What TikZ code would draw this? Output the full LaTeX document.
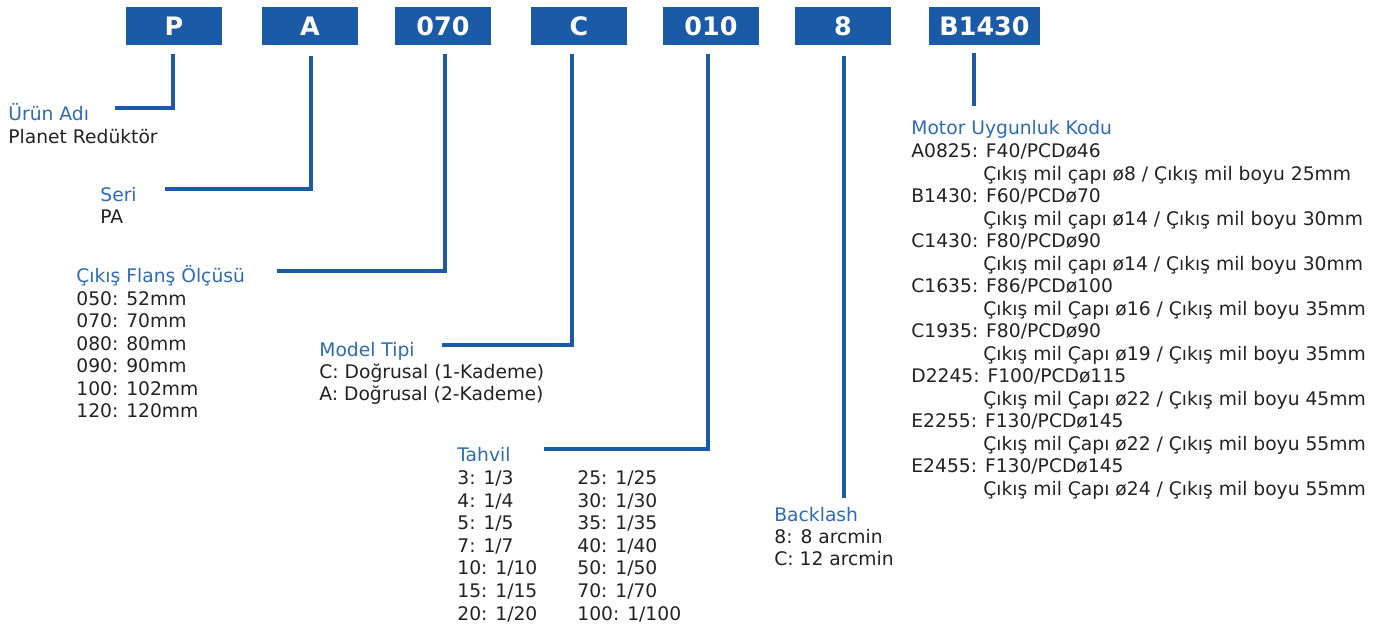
\documentclass[tikz,border=0pt]{standalone}
\usepackage{fontspec}
\setmainfont{DejaVu Sans}
\usetikzlibrary{positioning}
\definecolor{codeblue}{HTML}{1B5AA6}
\definecolor{titleblue}{HTML}{2D6BB5}
\definecolor{bodygray}{HTML}{222222}

\begin{document}
\begin{tikzpicture}[
  x=0.5pt, y=-0.5pt,
  codebox/.style={fill=codeblue, text=white, font=\fontsize{12.7}{14}\selectfont\bfseries,
    minimum width=48pt, minimum height=19pt, inner sep=0pt},
  title/.style={anchor=base west, inner sep=0pt, text=titleblue, font=\fontsize{9.35}{11}\selectfont},
  body/.style={title, text=bodygray},
  conn/.style={draw=codeblue, line width=2pt},
]
  \useasboundingbox (0,0) rectangle (1393,624);

  % Code boxes
  \node[codebox] (bP) at (174,26) {P};
  \node[codebox] (bA) at (310,26) {A};
  \node[codebox] (b070) at (443,26) {070};
  \node[codebox] (bC) at (579,26) {C};
  \node[codebox] (b010) at (711,26) {010};
  \node[codebox] (b8) at (843,26) {8};
  \node[codebox, minimum width=55.5pt] (bB1430) at (984.5,26) {B1430};

  % Elbows and free ends of the connectors
  \coordinate (kP) at (173,108);   \coordinate (eUrun) at (115,108);
  \coordinate (kA) at (311,189);   \coordinate (eSeri) at (165,189);
  \coordinate (k070) at (445,271); \coordinate (eFlans) at (277,271);
  \coordinate (kC) at (572,345);   \coordinate (eModel) at (442,345);
  \coordinate (k010) at (708,449); \coordinate (eTahvil) at (544,449);
  \coordinate (eBack) at (844,498);
  \coordinate (eMotor) at (974,106);

  % Connectors
  \draw[conn] ([yshift=-4.5pt]bP.south -| kP) -- (kP) -- (eUrun);
  \draw[conn] ([yshift=-5.5pt]bA.south -| kA) -- (kA) -- (eSeri);
  \draw[conn] ([yshift=-4.5pt]b070.south -| k070) -- (k070) -- (eFlans);
  \draw[conn] ([yshift=-4.5pt]bC.south -| kC) -- (kC) -- (eModel);
  \draw[conn] ([yshift=-4.5pt]b010.south -| k010) -- (k010) -- (eTahvil);
  \draw[conn] ([yshift=-5.5pt]b8.south -| eBack) -- (eBack);
  \draw[conn] ([yshift=-4pt]bB1430.south -| eMotor) -- (eMotor);

  % Product name
  \node[title] (tUrun) at (8,121) {Ürün Adı};
  \node[body] (dUrun) at (8,144) {Planet Redüktör};

  % Series
  \node[title] (tSeri) at (100,202) {Seri};
  \node[body] (dSeri) at (100,224) {PA};

  % Output flange
  \node[title] (tFlans) at (76,283) {Çıkış Flanş Ölçüsü};
  \foreach \t [count=\i] in {050: 52mm, 070: 70mm, 080: 80mm, 090: 90mm, 100: 102mm, 120: 120mm}
    \node[body] (dFlans\i) at (76,283+22.5*\i) {\t};

  % Model type
  \node[title] (tModel) at (319,357) {Model Tipi};
  \node[body] (dModel1) at (319,379) {C: Doğrusal (1-Kademe)};
  \node[body] (dModel2) at (319,401) {A: Doğrusal (2-Kademe)};

  % Ratio
  \node[title] (tTahvil) at (457,462) {Tahvil};
  \foreach \t [count=\i] in {3: 1/3, 4: 1/4, 5: 1/5, 7: 1/7, 10: 1/10, 15: 1/15, 20: 1/20}
    \node[body] (dTahvilL\i) at (457,462+22.6*\i) {\t};
  \foreach \t [count=\i] in {25: 1/25, 30: 1/30, 35: 1/35, 40: 1/40, 50: 1/50, 70: 1/70, 100: 1/100}
    \node[body] (dTahvilR\i) at (577,462+22.6*\i) {\t};

  % Backlash
  \node[title] (tBack) at (774,522) {Backlash};
  \node[body] (dBack1) at (774,544) {8: 8 arcmin};
  \node[body] (dBack2) at (774,566) {C: 12 arcmin};

  % Motor code
  \node[title] (tMotor) at (911,135) {Motor Uygunluk Kodu};
  \foreach \t [count=\i] in {A0825: F40/PCDø46, B1430: F60/PCDø70, C1430: F80/PCDø90,
      C1635: F86/PCDø100, C1935: F80/PCDø90, D2245: F100/PCDø115,
      E2255: F130/PCDø145, E2455: F130/PCDø145}
    \node[body] (dMotor\i) at (911,113+45*\i) {\t};
  \foreach \t [count=\i] in {Çıkış mil çapı ø8 / Çıkış mil boyu 25mm,
      Çıkış mil çapı ø14 / Çıkış mil boyu 30mm, Çıkış mil çapı ø14 / Çıkış mil boyu 30mm,
      Çıkış mil Çapı ø16 / Çıkış mil boyu 35mm, Çıkış mil Çapı ø19 / Çıkış mil boyu 35mm,
      Çıkış mil Çapı ø22 / Çıkış mil boyu 45mm, Çıkış mil Çapı ø22 / Çıkış mil boyu 55mm,
      Çıkış mil Çapı ø24 / Çıkış mil boyu 55mm}
    \node[body] (sMotor\i) at (983,135.5+45*\i) {\t};
\end{tikzpicture}
\end{document}
